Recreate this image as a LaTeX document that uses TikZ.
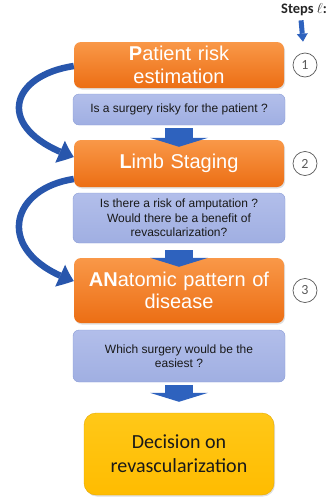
\documentclass[tikz,border=0pt]{standalone}
\usepackage{fontspec}
\setmainfont{Liberation Sans}
\newfontfamily\calfont{Carlito}
\usepackage{tikz}
\usetikzlibrary{shapes,arrows.meta,bending}
\usetikzlibrary{shadows}
\usetikzlibrary{positioning}
\definecolor{orangetop}{RGB}{249,152,72}
\definecolor{orangebot}{RGB}{236,110,20}
\definecolor{qbluetop}{RGB}{178,190,234}
\definecolor{qbluebot}{RGB}{160,175,226}
\definecolor{qborder}{RGB}{138,156,214}
\definecolor{arrowblue}{RGB}{46,98,190}
\definecolor{curveblue}{RGB}{40,86,172}
\definecolor{goldtop}{RGB}{255,200,24}
\definecolor{goldbot}{RGB}{255,188,0}
\definecolor{numgray}{RGB}{90,90,90}
\tikzstyle{stage} = [rectangle, rounded corners=7pt, top color=orangetop,
    bottom color=orangebot, text=white, text width=204pt, align=center,
    inner sep=2pt, minimum width=210pt,
    font=\fontsize{20}{22.5}\selectfont,
    drop shadow={shadow xshift=1pt,shadow yshift=-1.5pt,opacity=.25}]
\tikzstyle{question} = [rectangle, rounded corners=6pt, top color=qbluetop,
    bottom color=qbluebot, draw=qborder, text=black!90, align=center,
    minimum width=212pt, font=\fontsize{12}{14.5}\selectfont]
\tikzstyle{decision} = [rectangle, rounded corners=12pt, top color=goldtop,
    bottom color=goldbot, draw=goldbot!90!black, text=black!90, align=center,
    minimum width=190pt, minimum height=82pt,
    font=\calfont\fontsize{20}{24}\selectfont,
    drop shadow={shadow xshift=1pt,shadow yshift=-1.5pt,opacity=.25}]
\tikzstyle{stepnum} = [circle, draw=numgray, line width=.7pt, minimum size=24pt,
    inner sep=0pt, text=numgray, font=\calfont\fontsize{14}{14}\selectfont]
\tikzstyle{line} = [draw=arrowblue, line width=28pt,
    -{Triangle[length=9pt 0 0,width=58pt 0 0,line width=0pt 0 0]}]
\tikzstyle{bendline} = [draw=curveblue, line width=6.5pt,
    -{Triangle[length=15pt 0 0,width=24pt 0 0,line width=0pt 0 0,bend]}]
\tikzstyle{smallline} = [draw=arrowblue, line width=5pt,
    -{Triangle[length=8pt 0 0,width=11pt 0 0,line width=0pt 0 0]}]

\begin{document}
\begin{tikzpicture}[x=1pt,y=1pt]
\useasboundingbox (0,0) rectangle (332,-498);

% stages and questions
\node [stage, minimum height=46pt] (pr) at (179,-65) {\textbf{P}atient risk\\estimation};
\node [question, below of=pr, node distance=44.5pt, minimum height=31pt] (q1) {Is a surgery risky for the patient ?};
\node [stage, below of=q1, node distance=54pt, minimum height=47pt] (ls) {\textbf{L}imb Staging};
\node [question, below of=ls, node distance=54.5pt, minimum height=50pt] (q2) {Is there a risk of amputation ?\\Would there be a benefit of\\revascularization?};
\node [stage, below of=q2, node distance=72.5pt, minimum height=65pt] (an) {\textbf{AN}atomic pattern of\\disease};
\node [question, below of=an, node distance=65.5pt, minimum height=52pt] (q3) {Which surgery would be the\\easiest ?};
\node [decision, below of=q3, node distance=98pt] (dec) {Decision on\\revascularization};

% step numbers
\node [stepnum, right of=pr, node distance=126pt] (c1) {1};
\node [stepnum, right of=ls, node distance=126pt] (c2) {2};
\node [stepnum, right of=an, node distance=126pt] (c3) {3};
\node [font=\calfont\bfseries\fontsize{14.5}{14.5}\selectfont, text=black!85, inner sep=1pt, anchor=west] (steps) at (280,-10) {Steps $\ell$:};

\draw[smallline] ([xshift=-3pt,yshift=-3pt]steps.south) -- ([xshift=-2pt,yshift=11pt]c1.north);

% block arrows
\draw[line] ([yshift=-3pt]q1.south) -- ([yshift=-7pt]ls.north);
\draw[line] ([yshift=-7pt]q2.south) -- ([yshift=-9pt]an.north);
\draw[line] ([yshift=-3pt]q3.south) -- ([yshift=11pt]dec.north);

% skip arrows
\draw[bendline] ([yshift=-1pt]pr.west) .. controls +(-66,-10) and +(-80,27) .. ([yshift=6.5pt]ls.west);
\draw[bendline] ([yshift=-15.5pt]ls.west) .. controls +(-66,-10) and +(-80,27) .. ([yshift=9.5pt]an.west);

\end{tikzpicture}
\end{document}
